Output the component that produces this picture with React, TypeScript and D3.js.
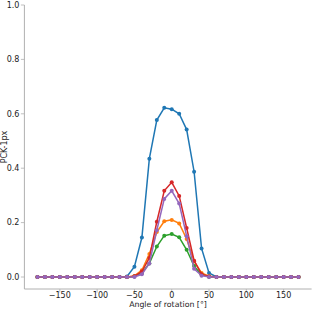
import React from "react";
import * as d3 from "d3";

const angles: number[] = d3.range(-180, 180, 10);
// values for angles -60..60 (others are 0)
const centerAngles = [-60, -50, -40, -30, -20, -10, 0, 10, 20, 30, 40, 50, 60];
const blueCenter = [0.002, 0.038, 0.145, 0.435, 0.577, 0.622, 0.617, 0.6, 0.542, 0.387, 0.105, 0.015, 0.0];
const orangeCenter = [0.0, 0.004, 0.025, 0.085, 0.165, 0.205, 0.21, 0.197, 0.14, 0.058, 0.015, 0.003, 0.0];
const greenCenter = [0.0, 0.002, 0.015, 0.05, 0.112, 0.152, 0.158, 0.146, 0.1, 0.04, 0.008, 0.001, 0.0];
const redCenter = [0.0, 0.003, 0.02, 0.07, 0.203, 0.317, 0.348, 0.298, 0.18, 0.06, 0.01, 0.002, 0.0];
const purpleCenter = [0.0, 0.0, 0.01, 0.05, 0.172, 0.287, 0.317, 0.27, 0.15, 0.03, 0.005, 0.0, 0.0];

const seriesNames = ["blue", "orange", "green", "red", "purple"];
const seriesColors = ["#1f77b4", "#ff7f0e", "#2ca02c", "#d62728", "#9467bd"];
const seriesCenters = [blueCenter, orangeCenter, greenCenter, redCenter, purpleCenter];

const xTicks = [-150, -100, -50, 0, 50, 100, 150];
const yTicks = [0.0, 0.2, 0.4, 0.6, 0.8, 1.0];

function fullSeries(center: number[]): number[] {
  return angles.map((a) => {
    const i = centerAngles.indexOf(a);
    return i >= 0 ? center[i] : 0;
  });
}

export default function App() {
  const W = 314, H = 310;
  const left = 24.4, right = 311.6, top = 5, zeroY = 277, bottom = 289;
  const x = d3.scaleLinear().domain([-197.5, 187.5]).range([left, right]);
  const y = d3.scaleLinear().domain([0, 1]).range([zeroY, top]);
  const line = d3
    .line<[number, number]>()
    .x((d) => x(d[0]))
    .y((d) => y(d[1]));
  const font = "DejaVu Sans, sans-serif";
  const spine = "#b0b0b0";
  return (
    <svg width={W} height={H} style={{ position: "absolute", left: 0, top: 0, background: "#fff" }}>
      {/* spines */}
      <line x1={left} x2={left} y1={top} y2={bottom} stroke={spine} strokeWidth={1} />
      <line x1={left} x2={right} y1={bottom} y2={bottom} stroke={spine} strokeWidth={1} />
      {yTicks.map((t) => (
        <g key={"y" + t}>
          <line x1={left - 3.5} x2={left} y1={y(t)} y2={y(t)} stroke={spine} strokeWidth={0.8} />
          <text x={left - 5} y={y(t)} dy="0.35em" textAnchor="end" fontSize={8} fontFamily={font} fill="#222">
            {t.toFixed(1)}
          </text>
        </g>
      ))}
      {xTicks.map((t) => (
        <g key={"x" + t}>
          <line x1={x(t)} x2={x(t)} y1={bottom} y2={bottom + 3.5} stroke={spine} strokeWidth={0.8} />
          <text x={x(t)} y={297.5} textAnchor="middle" fontSize={8} fontFamily={font} fill="#222">
            {t < 0 ? "\u2212" + Math.abs(t) : String(t)}
          </text>
        </g>
      ))}
      <text x={(left + right) / 2} y={306.5} textAnchor="middle" fontSize={7.8} fontFamily={font} fill="#222">
        Angle of rotation [°]
      </text>
      <text
        transform={`translate(7.3, ${(top + bottom) / 2}) rotate(-90)`}
        textAnchor="middle"
        fontSize={8}
        fontFamily={font}
        fill="#222"
      >
        PCK-1px
      </text>
      {seriesCenters.map((c, si) => {
        const vals = fullSeries(c);
        const pts: [number, number][] = angles.map((a, i) => [a, vals[i]]);
        return (
          <g key={seriesNames[si]}>
            <path d={line(pts) || ""} fill="none" stroke={seriesColors[si]} strokeWidth={1.5} />
            {pts.map((p, i) => (
              <circle key={i} cx={x(p[0])} cy={y(p[1])} r={2} fill={seriesColors[si]} />
            ))}
          </g>
        );
      })}
    </svg>
  );
}
